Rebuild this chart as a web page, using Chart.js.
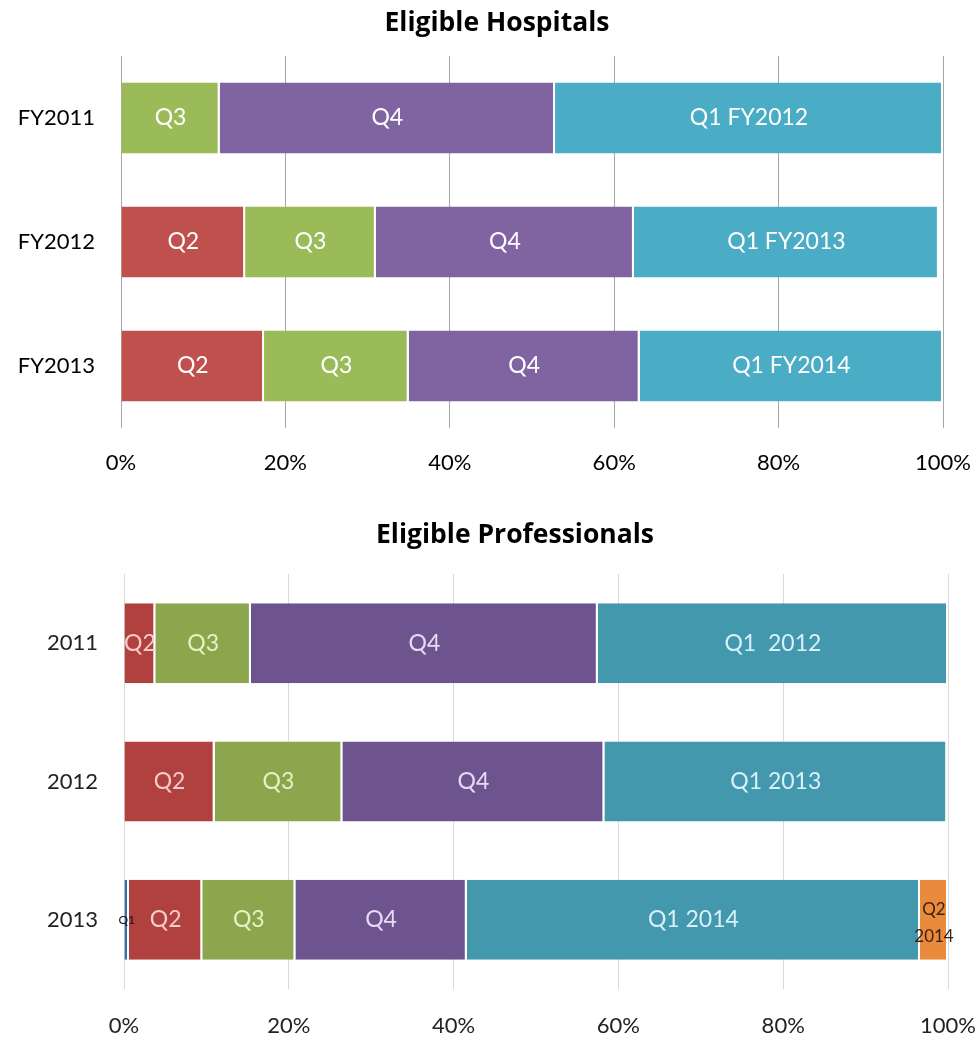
<!DOCTYPE html>
<html>
<head>
<meta charset="utf-8">
<script src="https://cdn.jsdelivr.net/npm/chart.js@4"></script>
<style>
  html, body { margin: 0; padding: 0; background: #ffffff; }
  #wrap { position: relative; width: 976px; height: 1038px; overflow: hidden; }
  #c1 { position: absolute; left: 0; top: 0; }
  #c2 { position: absolute; left: 0; top: 490px; }
  .title {
    position: absolute; left: 0; text-align: center; white-space: nowrap;
    font-family: "Open Sans", Lato, sans-serif; font-weight: bold; font-size: 26.5px;
    line-height: 30px; color: #000;
  }
  #t1 { top: 6px; width: 994px; }
  #t2 { top: 518px; width: 1030px; }
</style>
</head>
<body>
<div id="wrap">
  <canvas id="c1" width="976" height="490"></canvas>
  <canvas id="c2" width="976" height="548"></canvas>
  <div class="title" id="t1"></div>
  <div class="title" id="t2"></div>
</div>
<script>
// ---------- Data: Eligible Hospitals ----------
const hospTitle = 'Eligible Hospitals';
const hospCategories = ['FY2011', 'FY2012', 'FY2013'];
const hospQ2 = [0, 15.1, 17.4];
const hospQ3 = [12.0, 15.9, 17.6];
const hospQ4 = [40.8, 31.4, 28.1];
const hospQ1Next = [47.2, 37.1, 36.9];
const hospQ2Labels = ['', 'Q2', 'Q2'];
const hospQ3Labels = ['Q3', 'Q3', 'Q3'];
const hospQ4Labels = ['Q4', 'Q4', 'Q4'];
const hospQ1NextLabels = ['Q1 FY2012', 'Q1 FY2013', 'Q1 FY2014'];

// ---------- Data: Eligible Professionals ----------
const profTitle = 'Eligible Professionals';
const profCategories = ['2011', '2012', '2013'];
const profQ1 = [0, 0, 0.6];
const profQ2 = [3.8, 11.0, 8.9];
const profQ3 = [11.6, 15.5, 11.3];
const profQ4 = [42.1, 31.8, 20.8];
const profQ1Next = [42.5, 41.6, 55.0];
const profQ2Next = [0, 0, 3.4];
const profQ1Labels = ['', '', 'Q1'];
const profQ2Labels = ['Q2', 'Q2', 'Q2'];
const profQ3Labels = ['Q3', 'Q3', 'Q3'];
const profQ4Labels = ['Q4', 'Q4', 'Q4'];
const profQ1NextLabels = ['Q1  2012', 'Q1 2013', 'Q1 2014'];
const profQ2NextLabels = ['', '', 'Q2 2014'];

// ---------- Shared tick values ----------
const xTickValues = [0, 20, 40, 60, 80, 100];

document.getElementById('t1').textContent = hospTitle;
document.getElementById('t2').textContent = profTitle;

const FONT = 'Lato, "Open Sans", sans-serif';

const segLabelPlugin = {
  id: 'segLabels',
  afterDatasetsDraw(chart) {
    const ctx = chart.ctx;
    chart.data.datasets.forEach((ds, di) => {
      const meta = chart.getDatasetMeta(di);
      if (!ds.segLabels) return;
      meta.data.forEach((el, i) => {
        const txt = ds.segLabels[i];
        if (!txt) return;
        const p = el.getProps(['x', 'base', 'y'], true);
        const cx = (p.x + p.base) / 2;
        ctx.save();
        ctx.fillStyle = ds.labelColor || '#fff';
        ctx.font = (ds.labelSize || 23) + 'px ' + FONT;
        ctx.textAlign = 'center';
        ctx.textBaseline = 'middle';
        const lines = ds.labelMultiline ? txt.split(' ') : [txt];
        const lh = ds.labelLineHeight || (ds.labelSize || 23) * 1.3;
        lines.forEach((ln, k) => {
          ctx.fillText(ln, cx, p.y + (k - (lines.length - 1) / 2) * lh + (ds.labelDy || 0));
        });
        ctx.restore();
      });
    });
  }
};

function makeChart(canvasId, cfg) {
  return new Chart(document.getElementById(canvasId), {
    type: 'bar',
    data: { labels: cfg.categories, datasets: cfg.datasets },
    plugins: [segLabelPlugin],
    options: {
      indexAxis: 'y',
      responsive: false,
      animation: false,
      devicePixelRatio: 1,
      layout: { padding: { left: 0, right: cfg.padRight, top: cfg.padTop, bottom: 0 } },
      plugins: {
        legend: { display: false },
        tooltip: { enabled: false },
        title: { display: false }
      },
      datasets: {
        bar: {
          categoryPercentage: 1,
          barPercentage: cfg.barPct,
          borderColor: '#ffffff',
          borderWidth: { left: 0, right: 2, top: 0, bottom: 0 },
          borderSkipped: false
        }
      },
      scales: {
        x: {
          stacked: true,
          min: 0,
          max: 100,
          afterBuildTicks: (scale) => { scale.ticks = xTickValues.map(v => ({ value: v })); },
          afterFit: (scale) => {
            scale.height = cfg.xAxisHeight;
            scale.paddingLeft = 0;
            scale.paddingRight = 0;
          },
          ticks: {
            callback: (v) => v + '%',
            color: cfg.tickColor,
            padding: cfg.xTickPad,
            font: { family: FONT, size: 22 }
          },
          grid: { color: cfg.gridColor, lineWidth: 1, drawTicks: false },
          border: { display: false }
        },
        y: {
          stacked: true,
          afterFit: (scale) => {
            scale.width = cfg.yAxisWidth;
            scale.paddingTop = 0;
            scale.paddingBottom = 0;
          },
          ticks: {
            color: cfg.tickColor,
            padding: cfg.yTickPad,
            font: { family: FONT, size: 22 }
          },
          grid: { display: false, drawTicks: false },
          border: { display: false }
        }
      }
    }
  });
}

makeChart('c1', {
  categories: hospCategories,
  padRight: 33,
  padTop: 56,
  barPct: 0.573,
  xAxisHeight: 62,
  xTickPad: 22,
  yAxisWidth: 121,
  yTickPad: 26,
  tickColor: '#000',
  gridColor: '#a6a6a6',
  datasets: [
    { label: 'Q2', data: hospQ2, backgroundColor: '#c0504d', segLabels: hospQ2Labels, labelColor: '#ffffff' },
    { label: 'Q3', data: hospQ3, backgroundColor: '#9bbb59', segLabels: hospQ3Labels, labelColor: '#ffffff' },
    { label: 'Q4', data: hospQ4, backgroundColor: '#8064a2', segLabels: hospQ4Labels, labelColor: '#ffffff' },
    { label: 'Q1 next FY', data: hospQ1Next, backgroundColor: '#4bacc6', segLabels: hospQ1NextLabels, labelColor: '#ffffff' }
  ]
});

makeChart('c2', {
  categories: profCategories,
  padRight: 28,
  padTop: 84,
  barPct: 0.578,
  xAxisHeight: 49,
  xTickPad: 24,
  yAxisWidth: 124,
  yTickPad: 26,
  tickColor: '#222',
  gridColor: '#d9d9d9',
  datasets: [
    { label: 'Q1', data: profQ1, backgroundColor: '#2f6ca8', segLabels: profQ1Labels, labelColor: '#111', labelSize: 12 },
    { label: 'Q2', data: profQ2, backgroundColor: '#b0413e', segLabels: profQ2Labels, labelColor: '#f6cccb' },
    { label: 'Q3', data: profQ3, backgroundColor: '#8ba64c', segLabels: profQ3Labels, labelColor: '#e4f3c2' },
    { label: 'Q4', data: profQ4, backgroundColor: '#6d548e', segLabels: profQ4Labels, labelColor: '#e6daf4' },
    { label: 'Q1 next', data: profQ1Next, backgroundColor: '#4398ae', segLabels: profQ1NextLabels, labelColor: '#d6f1f8' },
    { label: 'Q2 next', data: profQ2Next, backgroundColor: '#e98a3c', segLabels: profQ2NextLabels, labelColor: '#3b2314', labelSize: 17, labelMultiline: true, labelLineHeight: 27, labelDy: 3 }
  ]
});
</script>
</body>
</html>
